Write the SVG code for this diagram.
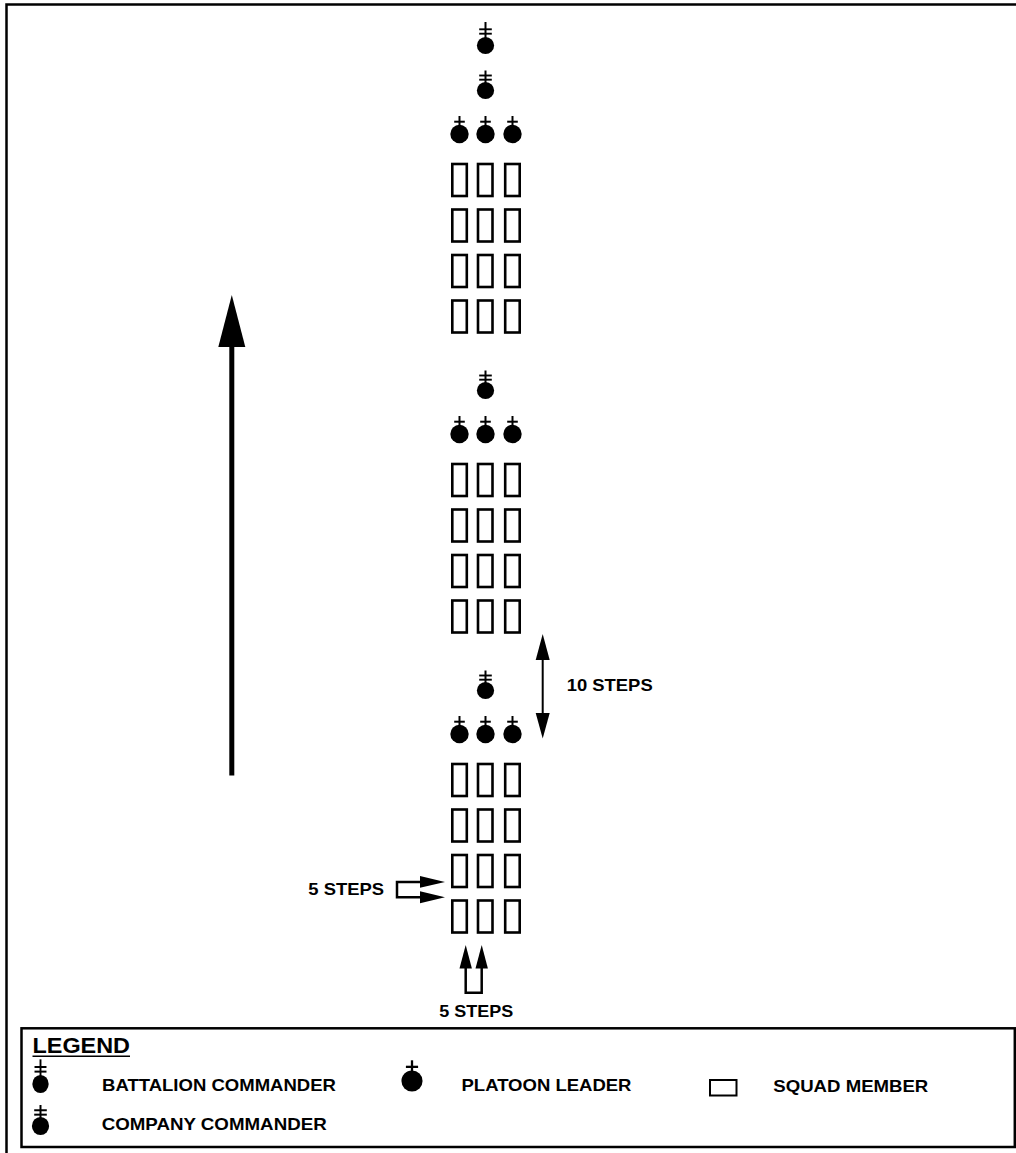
<svg xmlns="http://www.w3.org/2000/svg" xmlns:xlink="http://www.w3.org/1999/xlink" width="1016" height="1153" viewBox="0 0 1016 1153">
<style>
  .frame{fill:none;stroke:#000;stroke-width:2.5}
  .sq{fill:#fff;stroke:#000;stroke-width:2.6}
  .ln{stroke:#000;fill:none}
  .dot{fill:#000}
  .lbl{font-family:"Liberation Sans",Arial,Helvetica,sans-serif;font-weight:bold;font-size:17.3px;fill:#000}
  .ttl{font-family:"Liberation Sans",Arial,Helvetica,sans-serif;font-weight:bold;font-size:21.5px;fill:#000}
</style>
<defs>
  <g id="bn">
    <circle class="dot" cx="0" cy="0" r="8.6"/>
    <line class="ln" x1="0" y1="-23.5" x2="0" y2="-6" stroke-width="2"/>
    <line class="ln" x1="-6.3" y1="-16.2" x2="6.3" y2="-16.2" stroke-width="1.9"/>
    <line class="ln" x1="-6.3" y1="-11.8" x2="6.3" y2="-11.8" stroke-width="1.9"/>
  </g>
  <g id="co">
    <circle class="dot" cx="0" cy="0" r="8.6"/>
    <line class="ln" x1="0" y1="-20" x2="0" y2="-6" stroke-width="2"/>
    <line class="ln" x1="-6.3" y1="-15" x2="6.3" y2="-15" stroke-width="1.9"/>
    <line class="ln" x1="-6.3" y1="-10.8" x2="6.3" y2="-10.8" stroke-width="1.9"/>
  </g>
  <g id="pl">
    <circle class="dot" cx="0" cy="0" r="9.2"/>
    <line class="ln" x1="0" y1="-18" x2="0" y2="-7" stroke-width="2"/>
    <line class="ln" x1="-5.3" y1="-12.3" x2="5.3" y2="-12.3" stroke-width="2"/>
  </g>
  <g id="squads">
    <rect class="sq" x="452.3" y="0" width="14.5" height="32"/>
    <rect class="sq" x="478" y="0" width="14.5" height="32"/>
    <rect class="sq" x="505.2" y="0" width="14.5" height="32"/>
    <rect class="sq" x="452.3" y="45.5" width="14.5" height="32"/>
    <rect class="sq" x="478" y="45.5" width="14.5" height="32"/>
    <rect class="sq" x="505.2" y="45.5" width="14.5" height="32"/>
    <rect class="sq" x="452.3" y="91" width="14.5" height="32"/>
    <rect class="sq" x="478" y="91" width="14.5" height="32"/>
    <rect class="sq" x="505.2" y="91" width="14.5" height="32"/>
    <rect class="sq" x="452.3" y="136.5" width="14.5" height="32"/>
    <rect class="sq" x="478" y="136.5" width="14.5" height="32"/>
    <rect class="sq" x="505.2" y="136.5" width="14.5" height="32"/>
  </g>
</defs>

<path class="frame" d="M6.5,1153 V4.5 H1016"/>

<g id="battalion-commander">
  <use xlink:href="#bn" href="#bn" x="485.5" y="45.5"/>
</g>

<g id="company-1">
  <g id="company-1-commander"><use href="#co" xlink:href="#co" x="485.5" y="90.5"/></g>
  <g id="company-1-platoon-leaders">
    <use href="#pl" xlink:href="#pl" x="459.5" y="134"/>
    <use href="#pl" xlink:href="#pl" x="485.5" y="134"/>
    <use href="#pl" xlink:href="#pl" x="512.5" y="134"/>
  </g>
  <g id="company-1-squads"><use href="#squads" xlink:href="#squads" y="164"/></g>
</g>

<g id="company-2">
  <g id="company-2-commander"><use href="#co" xlink:href="#co" x="485.5" y="390.5"/></g>
  <g id="company-2-platoon-leaders">
    <use href="#pl" xlink:href="#pl" x="459.5" y="434"/>
    <use href="#pl" xlink:href="#pl" x="485.5" y="434"/>
    <use href="#pl" xlink:href="#pl" x="512.5" y="434"/>
  </g>
  <g id="company-2-squads"><use href="#squads" xlink:href="#squads" y="464"/></g>
</g>

<g id="company-3">
  <g id="company-3-commander"><use href="#co" xlink:href="#co" x="485.5" y="690.5"/></g>
  <g id="company-3-platoon-leaders">
    <use href="#pl" xlink:href="#pl" x="459.5" y="734"/>
    <use href="#pl" xlink:href="#pl" x="485.5" y="734"/>
    <use href="#pl" xlink:href="#pl" x="512.5" y="734"/>
  </g>
  <g id="company-3-squads"><use href="#squads" xlink:href="#squads" y="764"/></g>
</g>

<g id="connectors">
  <!-- direction of march -->
  <line class="ln" x1="231.8" y1="344" x2="231.8" y2="775.5" stroke-width="5"/>
  <polygon class="dot" points="231.8,295 218.3,347 245.3,347"/>
  <!-- 10 steps -->
  <line class="ln" x1="542.7" y1="656" x2="542.7" y2="716" stroke-width="2"/>
  <polygon class="dot" points="542.7,634 535.7,660 549.7,660"/>
  <polygon class="dot" points="542.7,738.5 535.7,713 549.7,713"/>
  <!-- 5 steps lateral -->
  <path class="ln" d="M421,882 H397 V897.3 H421" stroke-width="2.5"/>
  <polygon class="dot" points="420,876 445,882 420,887.8"/>
  <polygon class="dot" points="420,891.3 445,897.3 420,903.3"/>
  <!-- 5 steps front -->
  <path class="ln" d="M465.7,966 V992.7 H481.7 V966" stroke-width="2.5"/>
  <polygon class="dot" points="465.7,945 459.5,968.5 471.9,968.5"/>
  <polygon class="dot" points="481.7,945 475.5,968.5 487.9,968.5"/>
</g>

<g id="labels">
  <text class="lbl" x="566.7" y="691" textLength="86" lengthAdjust="spacingAndGlyphs">10 STEPS</text>
  <text class="lbl" x="308.3" y="895" textLength="75.7" lengthAdjust="spacingAndGlyphs">5 STEPS</text>
  <text class="lbl" x="439.3" y="1016.7" textLength="74" lengthAdjust="spacingAndGlyphs">5 STEPS</text>
</g>

<g id="legend">
  <rect class="frame" x="21.5" y="1028.3" width="993.3" height="118.7"/>
  <text class="ttl" x="32.5" y="1052.7" textLength="97.5" lengthAdjust="spacingAndGlyphs">LEGEND</text>
  <line class="ln" x1="32.5" y1="1056.3" x2="130" y2="1056.3" stroke-width="1.6"/>
  <g id="legend-battalion">
    <use href="#bn" xlink:href="#bn" transform="translate(40.5,1084) scale(0.95 1.05)"/>
    <text class="lbl" x="102" y="1091.2" textLength="234" lengthAdjust="spacingAndGlyphs">BATTALION COMMANDER</text>
  </g>
  <g id="legend-platoon">
    <use href="#pl" xlink:href="#pl" transform="translate(412,1081) scale(1.15)"/>
    <text class="lbl" x="461.5" y="1091.2" textLength="170" lengthAdjust="spacingAndGlyphs">PLATOON LEADER</text>
  </g>
  <g id="legend-squad">
    <rect x="710" y="1080" width="26.5" height="15.5" fill="#fff" stroke="#000" stroke-width="2"/>
    <text class="lbl" x="773.3" y="1091.5" textLength="155" lengthAdjust="spacingAndGlyphs">SQUAD MEMBER</text>
  </g>
  <g id="legend-company">
    <use href="#co" xlink:href="#co" transform="translate(40.5,1126) scale(1 1.05)"/>
    <text class="lbl" x="101.7" y="1130" textLength="225" lengthAdjust="spacingAndGlyphs">COMPANY COMMANDER</text>
  </g>
</g>
</svg>
